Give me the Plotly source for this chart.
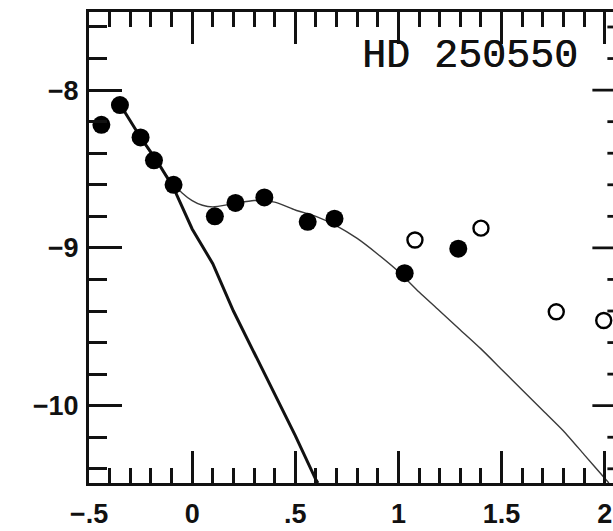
import plotly.graph_objects as go

# Observed photometry (filled = detections, open = other epochs)
filled_x = [-0.44, -0.35, -0.25, -0.185, -0.09, 0.11, 0.21, 0.35, 0.56, 0.69, 1.03, 1.29]
filled_y = [-8.22, -8.095, -8.30, -8.445, -8.60, -8.80, -8.715, -8.68, -8.835, -8.815, -9.16, -9.005]
open_x = [1.08, 1.40, 1.765, 1.995]
open_y = [-8.95, -8.875, -9.405, -9.46]

# Thin model curve
model_thin_x = [-0.35, -0.25, -0.18, -0.10, -0.05, 0.0, 0.05, 0.10, 0.20, 0.30, 0.40, 0.50,
                0.60, 0.70, 0.80, 0.90, 1.00, 1.10, 1.20, 1.30, 1.40, 1.50, 1.60, 1.70,
                1.80, 1.90, 2.00, 2.02]
model_thin_y = [-8.09, -8.30, -8.44, -8.58, -8.65, -8.70, -8.73, -8.74, -8.72, -8.70, -8.71, -8.76,
                -8.80, -8.86, -8.94, -9.04, -9.15, -9.28, -9.40, -9.52, -9.64, -9.77, -9.90, -10.03,
                -10.16, -10.31, -10.46, -10.49]

# Thick model curve
model_thick_x = [-0.35, -0.25, -0.17, -0.09, 0.0, 0.10, 0.20, 0.30, 0.40, 0.50, 0.60, 0.61]
model_thick_y = [-8.09, -8.30, -8.45, -8.62, -8.88, -9.10, -9.40, -9.66, -9.93, -10.19, -10.47, -10.49]

x_tickvals = [-0.5, 0, 0.5, 1, 1.5, 2]
x_ticktext = ["\u2212.5", "0", ".5", "1", "1.5", "2"]
y_tickvals = [-10, -9, -8]
y_ticktext = ["\u221210", "\u22129", "\u22128"]
label = "HD 250550"

X_RANGE = [-0.5, 2.04]
Y_RANGE = [-10.49, -7.505]
RIGHT_AXIS_X = 2.10  # right frame edge lies just beyond the visible area

fig = go.Figure()
fig.add_trace(go.Scatter(x=model_thin_x, y=model_thin_y, mode="lines",
                         line=dict(color="#3a3a3a", width=1.4, shape="spline", smoothing=0.6),
                         hoverinfo="skip", cliponaxis=True))
fig.add_trace(go.Scatter(x=model_thick_x, y=model_thick_y, mode="lines",
                         line=dict(color="#111111", width=3), hoverinfo="skip"))
fig.add_trace(go.Scatter(x=filled_x, y=filled_y, mode="markers",
                         marker=dict(size=18, color="black", line=dict(width=0))))
fig.add_trace(go.Scatter(x=open_x, y=open_y, mode="markers",
                         marker=dict(size=15, color="white", line=dict(color="black", width=2.4))))

fig.add_annotation(x=1.345, y=-7.79, text=label, showarrow=False,
                   font=dict(family="Liberation Mono", size=40, color="#111",
                             shadow="0.5px 0px 0px #111"),
                   xanchor="center", yanchor="middle")

# Inward ticks on the right-hand frame edge
shapes = []
px_per_x = 524 / (X_RANGE[1] - X_RANGE[0])
major_len = 33 / px_per_x
minor_len = 18 / px_per_x
yv = -10.4
while yv < -7.5:
    is_major = abs(yv - round(yv)) < 1e-6
    ln = major_len if is_major else minor_len
    shapes.append(dict(type="line", xref="x", yref="y", x0=RIGHT_AXIS_X - ln, x1=RIGHT_AXIS_X,
                       y0=yv, y1=yv, line=dict(color="#111", width=2.8)))
    yv = round(yv + 0.2, 6)
fig.update_layout(shapes=shapes)

fig.update_layout(
    width=613, height=531,
    margin=dict(l=89, r=0, t=12, b=48),
    paper_bgcolor="white", plot_bgcolor="white",
    showlegend=False,
    xaxis=dict(range=X_RANGE, showgrid=False, zeroline=False,
               showline=True, linewidth=3, linecolor="#111", mirror="ticks",
               ticks="inside", ticklen=32, tickwidth=2.8, tickcolor="#111",
               tickvals=x_tickvals, ticktext=x_ticktext,
               minor=dict(ticks="inside", ticklen=15, tickwidth=2.8, tickcolor="#111", dtick=0.1, tick0=0),
               tickfont=dict(family="Liberation Sans", size=27, color="#111", weight="bold"),
               ticklabelstandoff=5),
    yaxis=dict(range=Y_RANGE, showgrid=False, zeroline=False,
               showline=True, linewidth=3, linecolor="#111", mirror=False,
               ticks="inside", ticklen=33, tickwidth=2.8, tickcolor="#111",
               tickvals=y_tickvals, ticktext=y_ticktext,
               minor=dict(ticks="inside", ticklen=18, tickwidth=2.8, tickcolor="#111", dtick=0.2, tick0=-8),
               tickfont=dict(family="Liberation Sans", size=27, color="#111", weight="bold"),
               ticklabelstandoff=2),
)

fig.write_html("out.html")
